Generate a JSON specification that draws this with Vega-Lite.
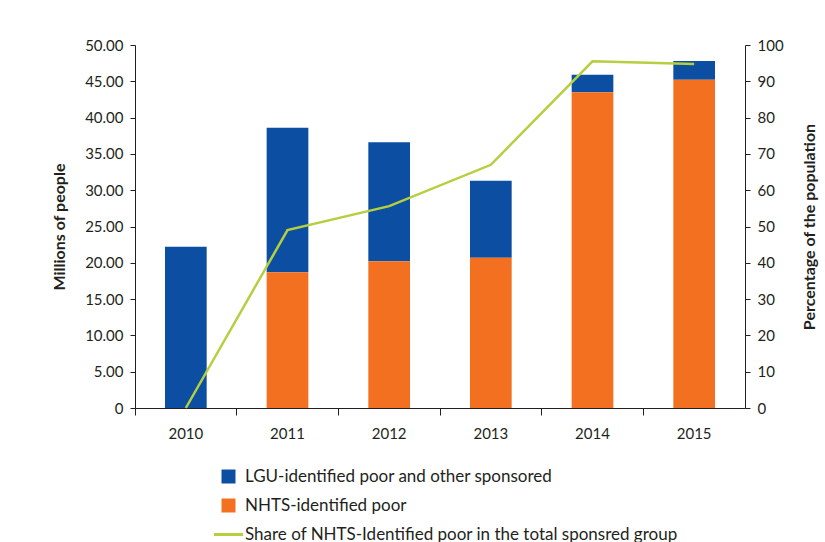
{
  "$schema": "https://vega.github.io/schema/vega-lite/v6.json",
  "width": 610,
  "height": 363,
  "autosize": {"type": "none"},
  "padding": {"left": 135, "top": 45, "right": 80, "bottom": 134},
  "background": "white",
  "config": {
    "font": "Lato",
    "view": {"stroke": null},
    "axis": {
      "labelFont": "Lato",
      "titleFont": "Lato",
      "labelColor": "#231f20",
      "titleColor": "#231f20",
      "domainColor": "#231f20",
      "tickColor": "#231f20",
      "labelFontSize": 15,
      "grid": false
    },
    "legend": {"labelFont": "Lato", "labelColor": "#231f20", "labelLimit": 0}
  },
  "datasets": {
    "bars": [
      {"year": "2010", "series": "LGU-identified poor and other sponsored", "value": 22.2},
      {"year": "2010", "series": "NHTS-identified poor", "value": 0},
      {"year": "2011", "series": "LGU-identified poor and other sponsored", "value": 19.9},
      {"year": "2011", "series": "NHTS-identified poor", "value": 18.7},
      {"year": "2012", "series": "LGU-identified poor and other sponsored", "value": 16.4},
      {"year": "2012", "series": "NHTS-identified poor", "value": 20.2},
      {"year": "2013", "series": "LGU-identified poor and other sponsored", "value": 10.6},
      {"year": "2013", "series": "NHTS-identified poor", "value": 20.7},
      {"year": "2014", "series": "LGU-identified poor and other sponsored", "value": 2.4},
      {"year": "2014", "series": "NHTS-identified poor", "value": 43.5},
      {"year": "2015", "series": "LGU-identified poor and other sponsored", "value": 2.6},
      {"year": "2015", "series": "NHTS-identified poor", "value": 45.2}
    ],
    "share": [
      {"year": "2010", "pct": 0},
      {"year": "2011", "pct": 49},
      {"year": "2012", "pct": 55.6},
      {"year": "2013", "pct": 67},
      {"year": "2014", "pct": 95.5},
      {"year": "2015", "pct": 94.8}
    ]
  },
  "layer": [
    {
      "data": {"name": "bars"},
      "mark": {"type": "bar", "width": {"band": 0.41}},
      "encoding": {
        "x": {
          "field": "year",
          "type": "nominal",
          "scale": {"paddingInner": 0, "paddingOuter": 0},
          "axis": {
            "title": null,
            "labelAngle": 0,
            "bandPosition": 0,
            "tickSize": 7,
            "labelPadding": 11,
            "labelFontSize": 15,
            "labelAlign": "center"
          }
        },
        "y": {
          "field": "value",
          "type": "quantitative",
          "stack": "zero",
          "scale": {"domain": [0, 50], "nice": false},
          "axis": {
            "title": "Millions of people",
            "titleFontSize": 16,
            "titleFontWeight": "bold",
            "values": [0, 5, 10, 15, 20, 25, 30, 35, 40, 45, 50],
            "labelExpr": "datum.value == 0 ? '0' : format(datum.value, '.2f')",
            "tickSize": 5,
            "labelPadding": 7,
            "titlePadding": 17
          }
        },
        "color": {
          "field": "series",
          "type": "nominal",
          "scale": {
            "domain": ["LGU-identified poor and other sponsored", "NHTS-identified poor", "Share of NHTS-Identified poor in the total sponsred group"],
            "range": ["#0b4ea2", "#f37021", "#b5cf3f"]
          },
          "legend": {
            "title": null,
            "orient": "none",
            "legendX": 85,
            "legendY": 423,
            "direction": "vertical",
            "labelFontSize": 17,
            "symbolSize": 400,
            "rowPadding": 11,
            "labelOffset": 8,
            "encode": {
              "symbols": {
                "update": {
                  "shape": {"signal": "datum.index == 2 ? 'stroke' : 'square'"},
                  "size": {"signal": "datum.index == 2 ? 841 : 196"},
                  "fill": {"scale": "color", "field": "value"},
                  "stroke": {"scale": "color", "field": "value"},
                  "strokeWidth": {"signal": "datum.index == 2 ? 3 : 0"},
                  "opacity": {"value": 1}
                }
              }
            }
          }
        },
        "order": {"field": "series", "sort": "descending"}
      }
    },
    {
      "data": {"name": "share"},
      "mark": {"type": "line", "strokeWidth": 2.5},
      "encoding": {
        "x": {"field": "year", "type": "nominal"},
        "y": {
          "field": "pct",
          "type": "quantitative",
          "scale": {"domain": [0, 100], "nice": false},
          "axis": {
            "orient": "right",
            "title": "Percentage of the population",
            "titleFontSize": 16,
            "titleFontWeight": "bold",
            "titleAngle": 270,
            "values": [0, 10, 20, 30, 40, 50, 60, 70, 80, 90, 100],
            "tickSize": 5,
            "labelPadding": 7,
            "titlePadding": 34
          }
        },
        "color": {"datum": "Share of NHTS-Identified poor in the total sponsred group"}
      }
    }
  ],
  "resolve": {"scale": {"y": "independent"}}
}
